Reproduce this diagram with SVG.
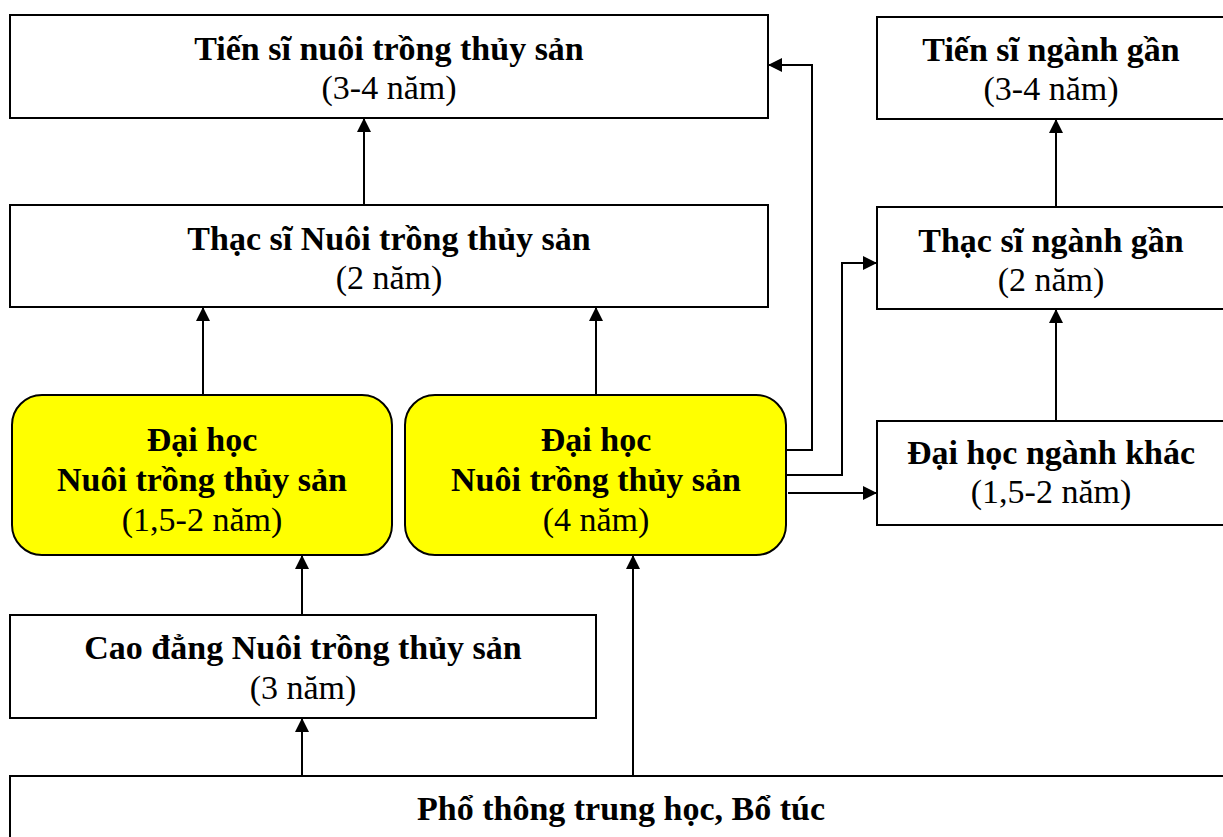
<svg xmlns="http://www.w3.org/2000/svg" width="1223" height="837" viewBox="0 0 1223 837">
<style>
.box{fill:#fff;stroke:#000;stroke-width:2}
.hl{fill:#ffff00;stroke:#000;stroke-width:2}
.t{font-family:"Liberation Serif","Times New Roman",serif;font-size:34px;fill:#000;text-anchor:middle}
.b{font-weight:bold}
.c{fill:none;stroke:#000;stroke-width:2}
</style>
<defs>
<marker id="ah" markerUnits="userSpaceOnUse" markerWidth="16" markerHeight="14" refX="14" refY="7" orient="auto">
<path d="M0,0 L14,7 L0,14 Z" fill="#000"/>
</marker>
</defs>
<rect width="1223" height="837" fill="#fff"/>
<g id="n-ts-ntts">
<rect class="box" x="10" y="15" width="758" height="103"/>
<text class="t b" x="389" y="60">Tiến sĩ nuôi trồng thủy sản</text>
<text class="t" x="389" y="99">(3-4 năm)</text>
</g>
<g id="n-ts-gan">
<rect class="box" x="877" y="17" width="350" height="102"/>
<text class="t b" x="1051" y="61">Tiến sĩ ngành gần</text>
<text class="t" x="1051" y="100">(3-4 năm)</text>
</g>
<g id="n-ths-ntts">
<rect class="box" x="10" y="205" width="758" height="102"/>
<text class="t b" x="389" y="250">Thạc sĩ Nuôi trồng thủy sản</text>
<text class="t" x="389" y="289">(2 năm)</text>
</g>
<g id="n-ths-gan">
<rect class="box" x="877" y="207" width="350" height="102"/>
<text class="t b" x="1051" y="252">Thạc sĩ ngành gần</text>
<text class="t" x="1051" y="291">(2 năm)</text>
</g>
<g id="n-dh-1">
<rect class="hl" x="12" y="395" width="380" height="160" rx="30" ry="30"/>
<text class="t b" x="202" y="451">Đại học</text>
<text class="t b" x="202" y="491">Nuôi trồng thủy sản</text>
<text class="t" x="202" y="531">(1,5-2 năm)</text>
</g>
<g id="n-dh-4">
<rect class="hl" x="405" y="395" width="381" height="160" rx="30" ry="30"/>
<text class="t b" x="596" y="451">Đại học</text>
<text class="t b" x="596" y="491">Nuôi trồng thủy sản</text>
<text class="t" x="596" y="531">(4 năm)</text>
</g>
<g id="n-dh-khac">
<rect class="box" x="877" y="421" width="350" height="104"/>
<text class="t b" x="1051" y="464">Đại học ngành khác</text>
<text class="t" x="1051" y="503">(1,5-2 năm)</text>
</g>
<g id="n-cd">
<rect class="box" x="10" y="615" width="586" height="103"/>
<text class="t b" x="303" y="659">Cao đẳng Nuôi trồng thủy sản</text>
<text class="t" x="303" y="699">(3 năm)</text>
</g>
<g id="n-pt">
<rect class="box" x="10" y="776" width="1225" height="80"/>
<text class="t b" x="621" y="820">Phổ thông trung học, Bổ túc</text>
</g>
<g id="connectors">
<path class="c" d="M364,205 L364,118" marker-end="url(#ah)"/>
<path class="c" d="M1056,207 L1056,119" marker-end="url(#ah)"/>
<path class="c" d="M203,395 L203,307" marker-end="url(#ah)"/>
<path class="c" d="M596,395 L596,307" marker-end="url(#ah)"/>
<path class="c" d="M1056,421 L1056,309" marker-end="url(#ah)"/>
<path class="c" d="M302,615 L302,555" marker-end="url(#ah)"/>
<path class="c" d="M302,776 L302,718" marker-end="url(#ah)"/>
<path class="c" d="M633,776 L633,555" marker-end="url(#ah)"/>
<path class="c" d="M786,450 L812,450 L812,65 L768,65" marker-end="url(#ah)"/>
<path class="c" d="M786,475 L842,475 L842,263 L877,263" marker-end="url(#ah)"/>
<path class="c" d="M788,493 L877,493" marker-end="url(#ah)"/>
</g>
</svg>
